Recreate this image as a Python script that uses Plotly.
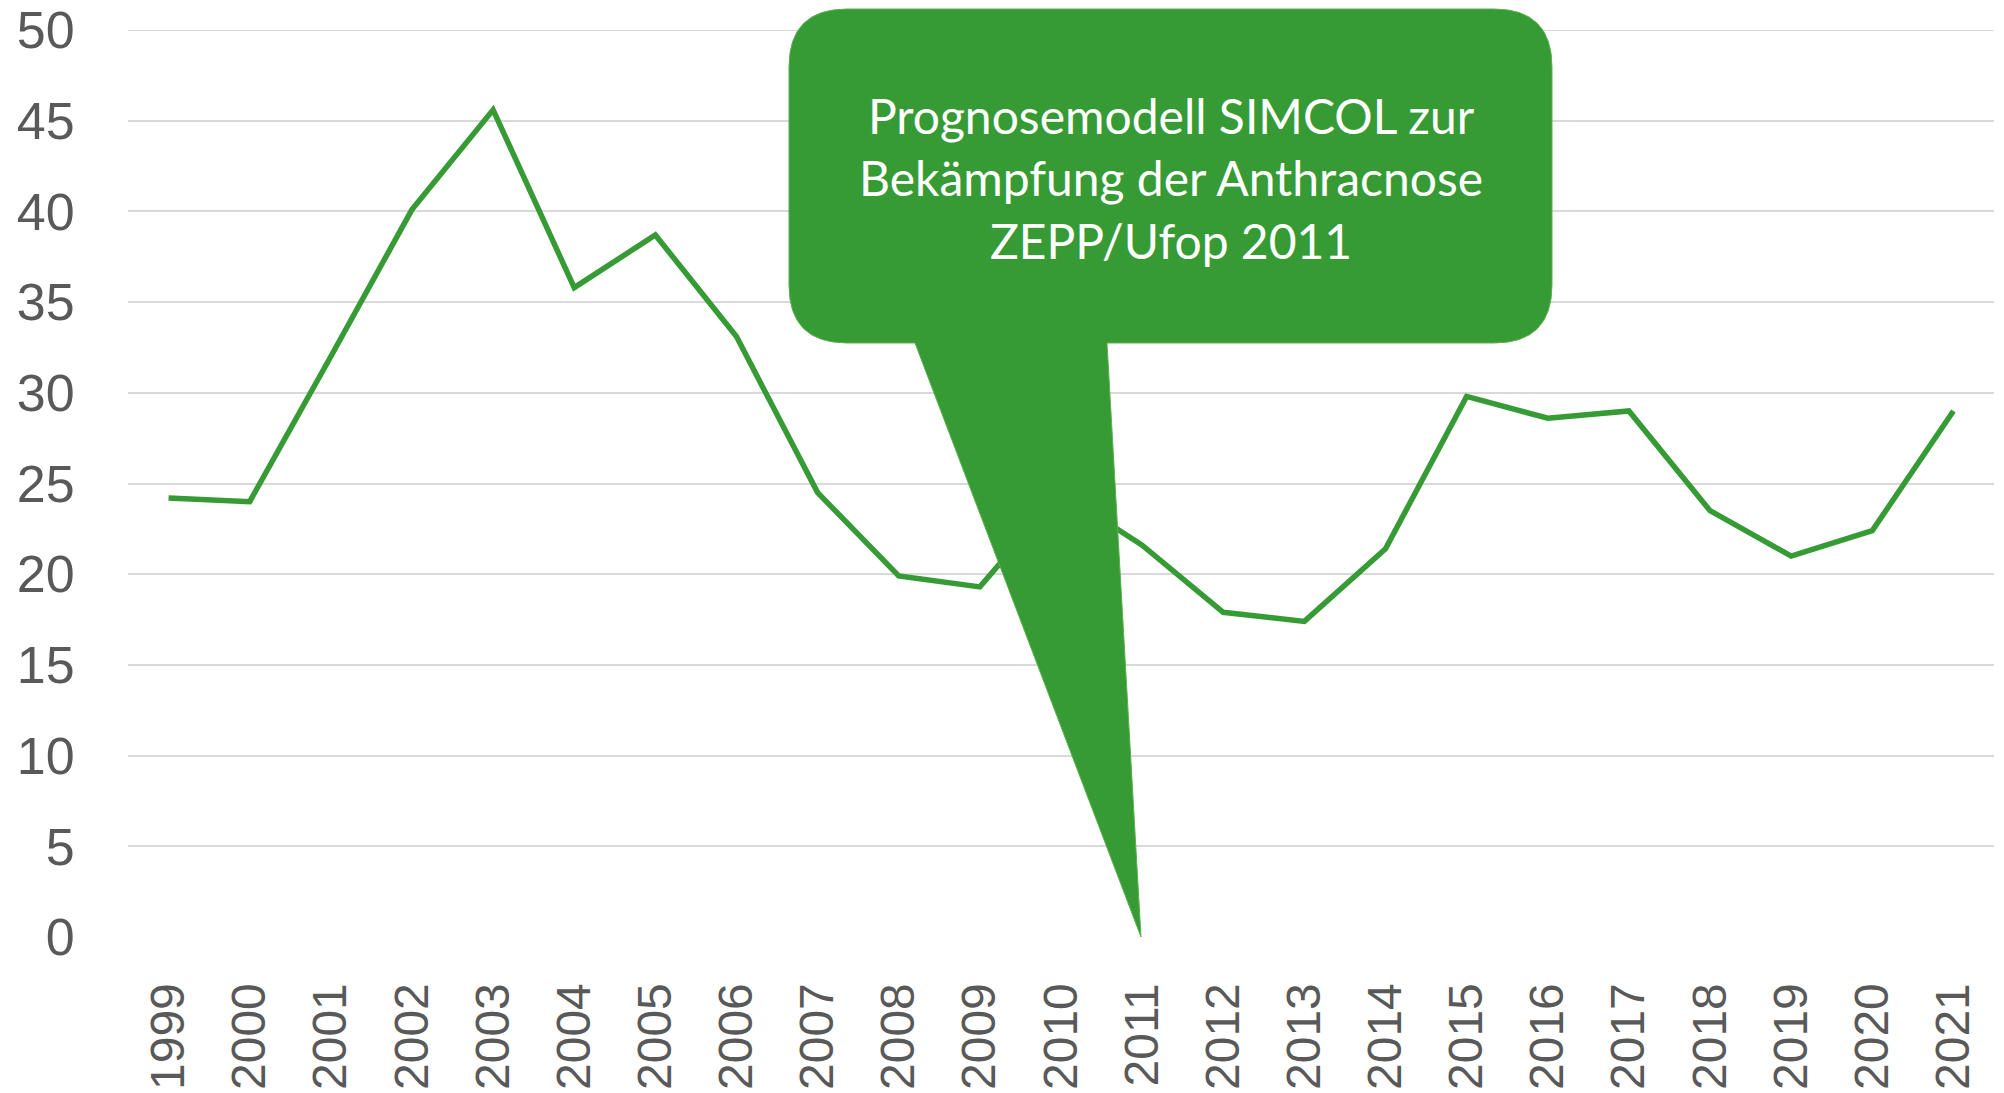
import plotly.graph_objects as go

years = list(range(1999, 2022))
values = [24.2, 24.0, 32.0, 40.1, 45.6, 35.8, 38.7, 33.1, 24.5, 19.9, 19.3, 24.5,
          21.6, 17.9, 17.4, 21.4, 29.8, 28.6, 29.0, 23.5, 21.0, 22.4, 29.0]
y_ticks = list(range(0, 51, 5))
callout_text = "Prognosemodell SIMCOL zur<br>Bekämpfung der Anthracnose<br>ZEPP/Ufop 2011"

W, H = 2004, 1093
OFF = 8  # page body margin offset
# plot area in viewport pixels
PL, PR, PT, PB = 128, 1994, 30, 937
ML, MT = PL - OFF, PT - OFF
MR, MB = W - (PR - OFF), H - (PB - OFF)
PW, PH = W - ML - MR, H - MT - MB

def px(x):
    return (x - OFF - ML) / PW

def py(y):
    return (H - MB - (y - OFF)) / PH

GREEN = "#369a35"

fig = go.Figure()
fig.add_trace(go.Scatter(x=years, y=values, mode="lines",
                         line=dict(color=GREEN, width=5.5), hoverinfo="skip"))

# top gridline at 50
fig.add_shape(type="line", xref="paper", yref="y", x0=0, x1=1, y0=50, y1=50,
              line=dict(color="#d9d9d9", width=2), layer="below")

# callout shape (pixel plan converted to paper coords)
x0, x1, y0, y1, r = 789, 1552, 9, 343, 58
bl, br, tipx, tipy = 915, 1107, 1141, 937
def P(x, y):
    return f"{px(x):.5f},{py(y):.5f}"
path = (f"M {P(x0 + r, y0)} L {P(x1 - r, y0)} Q {P(x1, y0)} {P(x1, y0 + r)} "
        f"L {P(x1, y1 - r)} Q {P(x1, y1)} {P(x1 - r, y1)} "
        f"L {P(br, y1)} L {P(tipx, tipy)} L {P(bl, y1)} "
        f"L {P(x0 + r, y1)} Q {P(x0, y1)} {P(x0, y1 - r)} "
        f"L {P(x0, y0 + r)} Q {P(x0, y0)} {P(x0 + r, y0)} Z")
fig.add_shape(type="path", path=path, xref="paper", yref="paper",
              fillcolor=GREEN, line=dict(color="#5bb04f", width=1), layer="above")

fig.add_annotation(x=px((x0 + x1) / 2), y=py(178), xref="paper", yref="paper",
                   xanchor="center", yanchor="middle",
                   text=callout_text, showarrow=False, align="center",
                   font=dict(family="Lato, Open Sans, sans-serif", size=48, color="white"))

tick_font = "Liberation Sans, Arial, sans-serif"
fig.update_layout(
    width=W, height=H, margin=dict(l=ML, r=MR, t=MT, b=MB, autoexpand=False),
    paper_bgcolor="white", plot_bgcolor="white", showlegend=False,
    xaxis=dict(range=[1998.5, 2021.5], tickvals=years, ticktext=[str(y) for y in years],
               tickangle=-90, showgrid=False, zeroline=False, showline=False, automargin=False,
               ticks="outside", ticklen=26, tickcolor="rgba(0,0,0,0)",
               ticklabeloverflow="allow",
               tickfont=dict(family=tick_font, size=48, color="#595959")),
    yaxis=dict(range=[0, 50], tickvals=y_ticks, showgrid=True, gridcolor="#d9d9d9", gridwidth=2,
               zeroline=False, showline=False, automargin=False,
               ticks="outside", ticklen=42, tickcolor="rgba(0,0,0,0)",
               ticklabeloverflow="allow",
               tickfont=dict(family=tick_font, size=52, color="#595959")),
)
fig.write_html("out.html")
